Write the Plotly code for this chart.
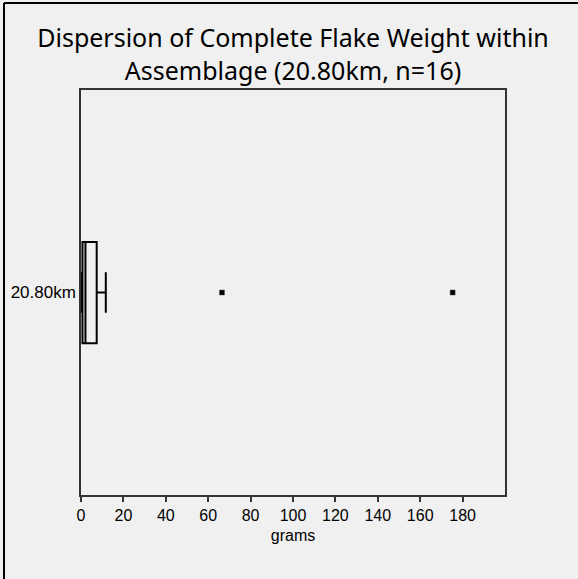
import plotly.graph_objects as go

# Complete flake weights (grams) for the 20.80km assemblage, n=16
site = "20.80km"
weights = [0.3, 0.4, 0.6, 0.7, 0.7, 1.2, 1.8, 2.0, 2.2, 3.5, 5.9, 7.2, 7.6, 11.7, 66.5, 175.3]
x_ticks = [0, 20, 40, 60, 80, 100, 120, 140, 160, 180]

BG = "#f0f0f0"
W, H = 578, 579
L, R, T, B = 81, 73, 90, 84
SANS = "Liberation Sans, Arial, sans-serif"

fig = go.Figure()
fig.add_trace(go.Box(
    x=weights,
    y=[site] * len(weights),
    orientation="h",
    boxpoints="outliers",
    quartilemethod="linear",
    width=0.25,
    whiskerwidth=0.4,
    fillcolor="rgba(0,0,0,0)",
    line=dict(color="black", width=2),
    marker=dict(symbol="square", size=5, color="black",
                line=dict(color="#555", width=0.5)),
    showlegend=False,
))

pw = W - L - R
ph = H - T - B
# outer frame (left and top edges of the chart panel)
fig.add_shape(type="line", xref="paper", yref="paper",
              x0=(4 - L) / pw, x1=(4 - L) / pw,
              y0=-(B + 2) / ph, y1=1 + (T - 3) / ph,
              line=dict(color="black", width=2))
fig.add_shape(type="line", xref="paper", yref="paper",
              x0=(4 - L) / pw, x1=1 + R / pw,
              y0=1 + (T - 3) / ph, y1=1 + (T - 3) / ph,
              line=dict(color="black", width=2))

fig.update_layout(
    width=W, height=H,
    margin=dict(l=L, r=R, t=T, b=B),
    paper_bgcolor=BG, plot_bgcolor=BG,
    title=dict(
        text="Dispersion of Complete Flake Weight within<br>Assemblage (20.80km, n=16)",
        x=0.5, xref="paper", xanchor="center",
        y=1 - 47 / H, yanchor="middle",
        font=dict(family="Noto Sans, Open Sans, sans-serif", size=25, color="black"),
    ),
    xaxis=dict(
        range=[0, 200], tickvals=x_ticks, ticks="outside", ticklen=5,
        tickcolor="#333", tickwidth=1.5,
        showline=True, linecolor="#333", linewidth=1.5, mirror=True,
        showgrid=False, zeroline=False,
        tickfont=dict(family=SANS, size=16, color="black"),
        title=dict(text="grams", standoff=7,
                   font=dict(family=SANS, size=16, color="black")),
    ),
    yaxis=dict(
        type="category", range=[-0.5, 0.5],
        ticks="", showline=True, linecolor="#333", linewidth=1.5, mirror=True,
        showgrid=False, zeroline=False, ticklabelstandoff=0,
        tickfont=dict(family=SANS, size=17, color="black"),
    ),
)

fig.write_html("out.html")
